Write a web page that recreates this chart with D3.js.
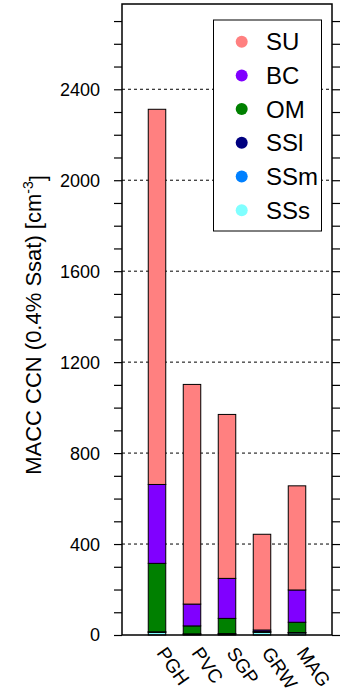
<!DOCTYPE html>
<html>
<head>
<meta charset="utf-8">
<script src="https://cdn.jsdelivr.net/npm/d3@7"></script>
<style>
  html, body { margin: 0; padding: 0; background: #fff; }
  svg { display: block; font-family: "Liberation Sans", Arial, Helvetica, sans-serif; }
</style>
</head>
<body>
<svg id="chart" width="340" height="699"></svg>
<script>
// Sites along the x axis
const sites = ["PGH", "PVC", "SGP", "GRW", "MAG"];

// CCN contribution per aerosol component (cm^-3), stacked bottom to top
const SSs = [12, 3, 3, 12, 9];
const SSm = [1, 1, 2, 1, 1];
const SSl = [1, 1, 1, 0, 1];
const OM  = [301, 35, 67, 2, 45];
const BC  = [347, 96, 176, 7, 142];
const SU  = [1650, 966, 721, 421, 458];

// Stack order (bottom first) and colours
const componentNames = ["SSs", "SSm", "SSl", "OM", "BC", "SU"];
const componentValues = [SSs, SSm, SSl, OM, BC, SU];
const componentColors = ["#80ffff", "#0080ff", "#000080", "#008000", "#8000ff", "#ff8080"];

// Axis ticks
const majorTicks = [0, 400, 800, 1200, 1600, 2000, 2400];
const minorTicks = d3.range(0, 2800, 100);

const yMax = 2775;
const plot = { left: 122, right: 332, top: 4, bottom: 635 };

const svg = d3.select("#chart");

const x = d3.scaleLinear().domain([0, sites.length + 1]).range([plot.left, plot.right]);
const y = d3.scaleLinear().domain([0, yMax]).range([plot.bottom, plot.top]);
const barWidth = x(0.5) - x(0);

// Dashed grid lines
svg.append("g")
  .selectAll("line")
  .data(majorTicks.filter(d => d > 0))
  .join("line")
  .attr("x1", plot.left).attr("x2", plot.right)
  .attr("y1", d => y(d)).attr("y2", d => y(d))
  .attr("stroke", "#000")
  .attr("stroke-width", 1)
  .attr("stroke-dasharray", "3,3");

// Stacked bars
const rows = sites.map((s, i) => {
  const r = { site: s };
  componentNames.forEach((n, k) => { r[n] = componentValues[k][i]; });
  return r;
});
const stacked = d3.stack().keys(componentNames)(rows);

const barGroup = svg.append("g");
stacked.forEach((layer, k) => {
  barGroup.append("g")
    .attr("fill", componentColors[k])
    .selectAll("rect")
    .data(layer)
    .join("rect")
    .attr("x", (d, i) => x(i + 1) - barWidth / 2)
    .attr("width", barWidth)
    .attr("y", d => y(d[1]))
    .attr("height", d => y(d[0]) - y(d[1]))
    .attr("stroke", "#000")
    .attr("stroke-width", 1);
});

// Left and right axes with outward ticks
const leftAxis = d3.axisLeft(y).tickValues(minorTicks).tickSize(8).tickFormat("");
const rightAxis = d3.axisRight(y).tickValues(minorTicks).tickSize(8).tickFormat("");
const gl = svg.append("g").attr("transform", `translate(${plot.left},0)`).call(leftAxis);
const gr = svg.append("g").attr("transform", `translate(${plot.right},0)`).call(rightAxis);
[gl, gr].forEach(g => {
  g.select(".domain").remove();
  g.selectAll(".tick line").attr("stroke", "#000").attr("stroke-width", 1.2);
});

// Tick labels
svg.append("g")
  .selectAll("text")
  .data(majorTicks)
  .join("text")
  .attr("x", 100)
  .attr("y", d => y(d))
  .attr("dy", "0.36em")
  .attr("text-anchor", "end")
  .attr("font-size", 18)
  .text(d => d);

// Frame
svg.append("rect")
  .attr("x", plot.left).attr("y", plot.top)
  .attr("width", plot.right - plot.left)
  .attr("height", plot.bottom - plot.top)
  .attr("fill", "none")
  .attr("stroke", "#000")
  .attr("stroke-width", 1.5);

// Rotated site labels
svg.append("g")
  .selectAll("text")
  .data(sites)
  .join("text")
  .attr("transform", (d, i) => `translate(${x(i + 1) - 1},${plot.bottom + 18}) rotate(55)`)
  .attr("font-size", 19)
  .attr("text-anchor", "start")
  .text(d => d);

// Y axis title
const title = svg.append("text")
  .attr("transform", `translate(41,325) rotate(-90)`)
  .attr("text-anchor", "middle")
  .attr("font-size", 22);
title.append("tspan").text("MACC CCN (0.4% Ssat) [cm");
title.append("tspan").attr("dy", "-0.55em").attr("font-size", 14).text("-3");
title.append("tspan").attr("dy", "0.55em").text("]");

// Legend
const legend = svg.append("g");
legend.append("rect")
  .attr("x", 213.5).attr("y", 20)
  .attr("width", 108).attr("height", 211)
  .attr("fill", "#fff")
  .attr("stroke", "#000")
  .attr("stroke-width", 1);

const legendOrder = componentNames.map((n, k) => ({ name: n, color: componentColors[k] })).reverse();
const items = legend.selectAll("g.item")
  .data(legendOrder)
  .join("g")
  .attr("class", "item")
  .attr("transform", (d, i) => `translate(0,${41.7 + i * 33.7})`);
items.append("circle")
  .attr("cx", 241.7).attr("cy", 0).attr("r", 6)
  .attr("fill", d => d.color);
items.append("text")
  .attr("x", 266).attr("y", 0).attr("dy", "0.36em")
  .attr("font-size", 24)
  .text(d => d.name);
</script>
</body>
</html>
